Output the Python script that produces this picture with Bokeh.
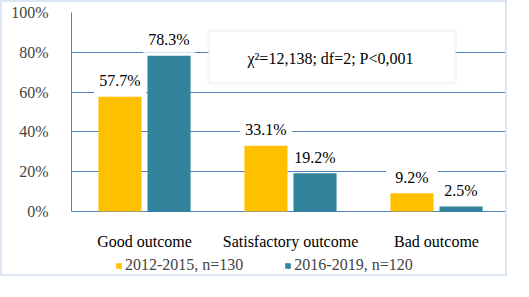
from bokeh.plotting import figure
from bokeh.models import (ColumnDataSource, FactorRange, Range1d,
                          BoxAnnotation, Legend, LegendItem, FixedTicker, NumeralTickFormatter)
from bokeh.core.properties import value
from bokeh.transform import dodge
from bokeh.embed import file_html
from bokeh.resources import INLINE

categories = ["Good outcome", "Satisfactory outcome", "Bad outcome"]
series_names = ["2012-2015, n=130", "2016-2019, n=120"]
values_2012 = [57.7, 33.1, 9.2]
values_2016 = [78.3, 19.2, 2.5]
y_ticks = [0, 20, 40, 60, 80, 100]
stat_text = "\u03c7\u00b2=12,138; df=2; P<0,001"

YELLOW = "#ffc000"
TEAL = "#31849b"
GRID = "#4f81bd"
FONT = "'Liberation Serif', 'Times New Roman', serif"
FS = "16px"

PX_PER_UNIT = 199.0          # frame pixels per 100 %
LABEL_LIFT = 16 / PX_PER_UNIT  # data labels sit 16 px above bar tops

src = ColumnDataSource(dict(
    cat=categories,
    base=[0.0] * len(categories),
    v1=[v / 100 for v in values_2012],
    v2=[v / 100 for v in values_2016],
    y1=[v / 100 + LABEL_LIFT for v in values_2012],
    y2=[v / 100 + LABEL_LIFT for v in values_2016],
    l1=["%.1f%%" % v for v in values_2012],
    l2=["%.1f%%" % v for v in values_2016],
))

# frame spans the whole canvas height; the area below 0 holds category labels + legend
p = figure(x_range=FactorRange(*categories, range_padding=0), y_range=Range1d(-0.3367, 1),
           width=507, height=276, output_backend="svg", toolbar_location=None,
           min_border_left=69, min_border_right=0, min_border_top=10, min_border_bottom=0)
p.styles = {"border": "2px solid #dce6f2"}
p.outline_line_color = None
p.background_fill_color = "white"
p.border_fill_color = "white"

off = 0.168
bw = 0.295

# white backgrounds of the data labels (hide gridlines behind labels)
for ycol, dx in (("y1", -off), ("y2", off)):
    p.rect(x=dodge("cat", dx, range=p.x_range), y=ycol, width=52, height=26,
           width_units="screen", height_units="screen", source=src,
           fill_color="white", line_color=None)

r1 = p.vbar(x=dodge("cat", -off, range=p.x_range), top="v1", width=bw, source=src,
            fill_color=YELLOW, line_color=None)
r2 = p.vbar(x=dodge("cat", off, range=p.x_range), top="v2", width=bw, source=src,
            fill_color=TEAL, line_color=None)

for col, ycol, dx in (("l1", "y1", -off), ("l2", "y2", off)):
    p.text(x=dodge("cat", dx, range=p.x_range), y=ycol, text=col, source=src,
           text_align="center", text_baseline="middle",
           text_font=value(FONT), text_font_size=value(FS), text_color="black")

# category labels (x axis labels) under the 0% line
p.text(x="cat", y="base", text="cat", source=src, y_offset=30,
       text_align="center", text_baseline="middle",
       text_font=value(FONT), text_font_size=value(FS), text_color="black")

box = BoxAnnotation(left=0.94, right=2.63, bottom=0.643, top=0.91,
                    fill_color="white", fill_alpha=1, line_color="#dce6f2", line_width=3,
                    level="underlay")
p.add_layout(box)
p.text(x=[categories[1]], y=[0.769], text=[stat_text], x_offset=40,
       text_align="center", text_baseline="middle",
       text_font=value(FONT), text_font_size=value(FS), text_color="black")

p.yaxis.ticker = FixedTicker(ticks=[t / 100 for t in y_ticks])
p.yaxis.bounds = (0, 1)
p.yaxis.formatter = NumeralTickFormatter(format="0%")
p.yaxis.major_label_text_font = FONT
p.yaxis.major_label_text_font_size = FS
p.yaxis.major_label_standoff = 17
p.yaxis.axis_line_color = GRID
p.yaxis.major_tick_line_color = None
p.yaxis.minor_tick_line_color = None

p.xaxis.visible = False
p.xgrid.grid_line_color = None
p.ygrid.grid_line_color = GRID
p.ygrid.grid_line_width = 1

legend = Legend(items=[LegendItem(label=series_names[0], renderers=[r1]),
                       LegendItem(label=series_names[1], renderers=[r2])],
                orientation="horizontal", location=(44, 4),
                glyph_width=7, glyph_height=7, label_standoff=3, spacing=41,
                padding=0, margin=0, border_line_color=None, background_fill_alpha=0,
                label_text_font=FONT, label_text_font_size=FS)
p.add_layout(legend, "center")

open("out.html", "w").write(file_html(p, INLINE))
